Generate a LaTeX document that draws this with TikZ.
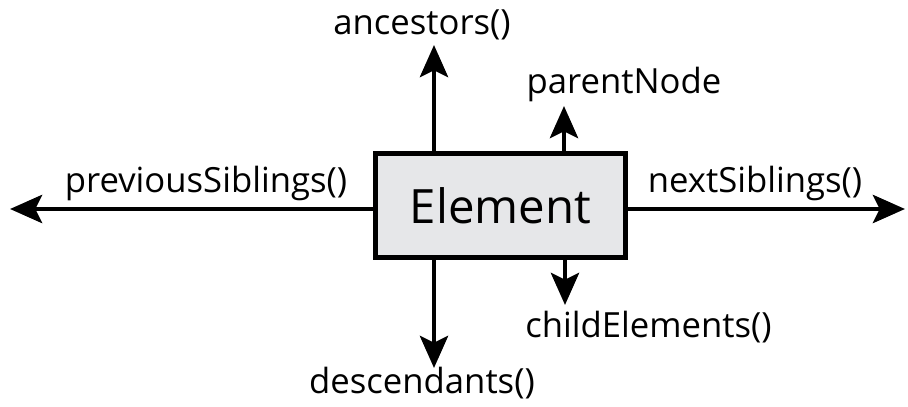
\documentclass[tikz,border=0pt]{standalone}
\usepackage{fontspec}
\setmainfont{Open Sans}
\usetikzlibrary{arrows.meta}
\definecolor{boxfill}{HTML}{E6E7E9}
\begin{document}
\begin{tikzpicture}[x=0.75pt,y=-0.75pt,
  arr/.style={line width=3.6pt,-{Stealth[length=24pt,width=21pt,inset=5pt]}},
  lbl/.style={anchor=base,inner sep=0pt,font=\fontsize{26}{30}\selectfont},
  elembox/.style={draw,line width=3.75pt,fill=boxfill,minimum width=187.5pt,minimum height=78pt,inner sep=0pt,font=\fontsize{35.5}{40}\selectfont}]
\useasboundingbox (0,0) rectangle (908,407);
\node[elembox] (box) at (500.5,205.5) {Element};
\coordinate (ancTip) at (434,45);
\coordinate (parTip) at (564,106);
\coordinate (prevTip) at (10,209);
\coordinate (nextTip) at (905,209);
\coordinate (descTip) at (434,368);
\coordinate (childTip) at (565,305);
\draw[arr] (ancTip |- box.north) -- (ancTip);
\draw[arr] (parTip |- box.north) -- (parTip);
\draw[arr] (prevTip -| box.west) -- (prevTip);
\draw[arr] (nextTip -| box.east) -- (nextTip);
\draw[arr] (descTip |- box.south) -- (descTip);
\draw[arr] (childTip |- box.south) -- (childTip);
\node[lbl] (anc) at (422,35) {ancestors()};
\node[lbl] (par) at (624,93) {parentNode};
\node[lbl] (prev) at (206,192) {previousSiblings()};
\node[lbl] (next) at (755,192) {nextSiblings()};
\node[lbl] (child) at (648.5,337) {childElements()};
\node[lbl] (desc) at (422,393) {descendants()};
\end{tikzpicture}
\end{document}
